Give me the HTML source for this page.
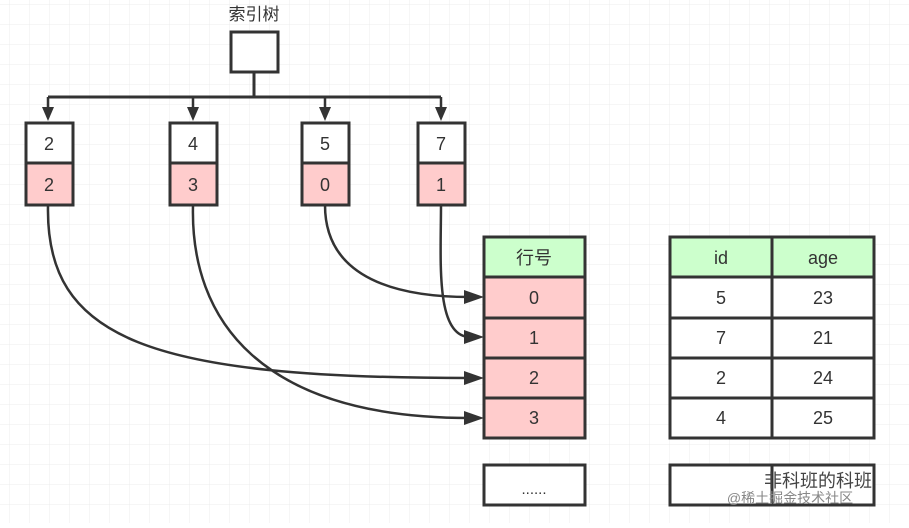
<!DOCTYPE html>
<html><head><meta charset="utf-8"><style>
html,body{margin:0;padding:0;background:#fff;}
body{width:909px;height:523px;overflow:hidden;}
</style></head><body>
<svg width="909" height="523" xmlns="http://www.w3.org/2000/svg" font-family="Liberation Sans, Noto Sans CJK SC, sans-serif">
<defs>
<pattern id="g" x="10" y="5" width="20" height="20" patternUnits="userSpaceOnUse">
<path d="M20 0V20M0 20H20" stroke="#ececec" stroke-width="1" fill="none"/>
</pattern>
</defs>
<rect width="909" height="523" fill="url(#g)"/>
<g fill="none" stroke="#333" stroke-width="3">
<rect x="231" y="32" width="47" height="40" fill="#fff"/>
<path d="M254 72V97M48 97H441"/>
<path d="M48 97V110M193 97V110M325 97V110M441 97V110" stroke-width="2.5"/>
</g>
<text x="254" y="20" font-size="17" fill="#333" text-anchor="middle" font-family="Liberation Sans, Noto Sans CJK SC, sans-serif">索引树</text>
<g fill="#333">
<path d="M42 107H54L48 121z"/><path d="M187 107H199L193 121z"/><path d="M319 107H331L325 121z"/><path d="M435 107H447L441 121z"/>
</g>
<g stroke="#333" stroke-width="3" font-size="18" fill="#333" text-anchor="middle">
<rect x="26" y="123" width="47" height="40" fill="#fff"/><rect x="26" y="163" width="47" height="42" fill="#ffcccc"/>
<rect x="170" y="123" width="47" height="40" fill="#fff"/><rect x="170" y="163" width="47" height="42" fill="#ffcccc"/>
<rect x="302" y="123" width="47" height="40" fill="#fff"/><rect x="302" y="163" width="47" height="42" fill="#ffcccc"/>
<rect x="418" y="123" width="47" height="40" fill="#fff"/><rect x="418" y="163" width="47" height="42" fill="#ffcccc"/>
<g stroke="none">
<text x="49" y="150">2</text><text x="49" y="191">2</text>
<text x="193" y="150">4</text><text x="193" y="191">3</text>
<text x="325" y="150">5</text><text x="325" y="191">0</text>
<text x="441" y="150">7</text><text x="441" y="191">1</text>
</g>
<rect x="484" y="237" width="101" height="40" fill="#ccffcc"/>
<rect x="484" y="277" width="101" height="41" fill="#ffcccc"/>
<rect x="484" y="318" width="101" height="40" fill="#ffcccc"/>
<rect x="484" y="358" width="101" height="40" fill="#ffcccc"/>
<rect x="484" y="398" width="101" height="40" fill="#ffcccc"/>
<rect x="484" y="465" width="101" height="40" fill="#fff"/>
<rect x="670" y="237" width="102" height="40" fill="#ccffcc"/><rect x="772" y="237" width="102" height="40" fill="#ccffcc"/>
<rect x="670" y="277" width="102" height="41" fill="#fff"/><rect x="772" y="277" width="102" height="41" fill="#fff"/>
<rect x="670" y="318" width="102" height="40" fill="#fff"/><rect x="772" y="318" width="102" height="40" fill="#fff"/>
<rect x="670" y="358" width="102" height="40" fill="#fff"/><rect x="772" y="358" width="102" height="40" fill="#fff"/>
<rect x="670" y="398" width="102" height="40" fill="#fff"/><rect x="772" y="398" width="102" height="40" fill="#fff"/>
<rect x="670" y="465" width="102" height="40" fill="#fff"/><rect x="772" y="465" width="102" height="40" fill="#fff"/>
<g stroke="none">
<text x="534" y="264">行号</text>
<text x="534" y="304">0</text><text x="534" y="344">1</text><text x="534" y="384">2</text><text x="534" y="424">3</text>
<text x="534" y="494" font-size="15">......</text>
<text x="721" y="264">id</text><text x="823" y="264">age</text>
<text x="721" y="304">5</text><text x="823" y="304">23</text>
<text x="721" y="344">7</text><text x="823" y="344">21</text>
<text x="721" y="384">2</text><text x="823" y="384">24</text>
<text x="721" y="424">4</text><text x="823" y="424">25</text>
<text x="818" y="487" font-size="18" fill="#444">非科班的科班</text>
<text x="790" y="503" font-size="14" fill="#888">@稀土掘金技术社区</text>
</g>
</g>
<g fill="none" stroke="#333" stroke-width="2.5">
<path d="M48 205C45 340 150 378 470 378"/>
<path d="M193 205C190 320 260 418 470 418"/>
<path d="M325 205C325 280 400 297 470 297"/>
<path d="M441 205C441 260 435 337 470 337"/>
</g>
<g fill="#333">
<path d="M464 290L484 297L464 304z"/>
<path d="M464 330L484 337L464 344z"/>
<path d="M464 371L484 378L464 385z"/>
<path d="M464 411L484 418L464 425z"/>
</g>
</svg>
</body></html>
